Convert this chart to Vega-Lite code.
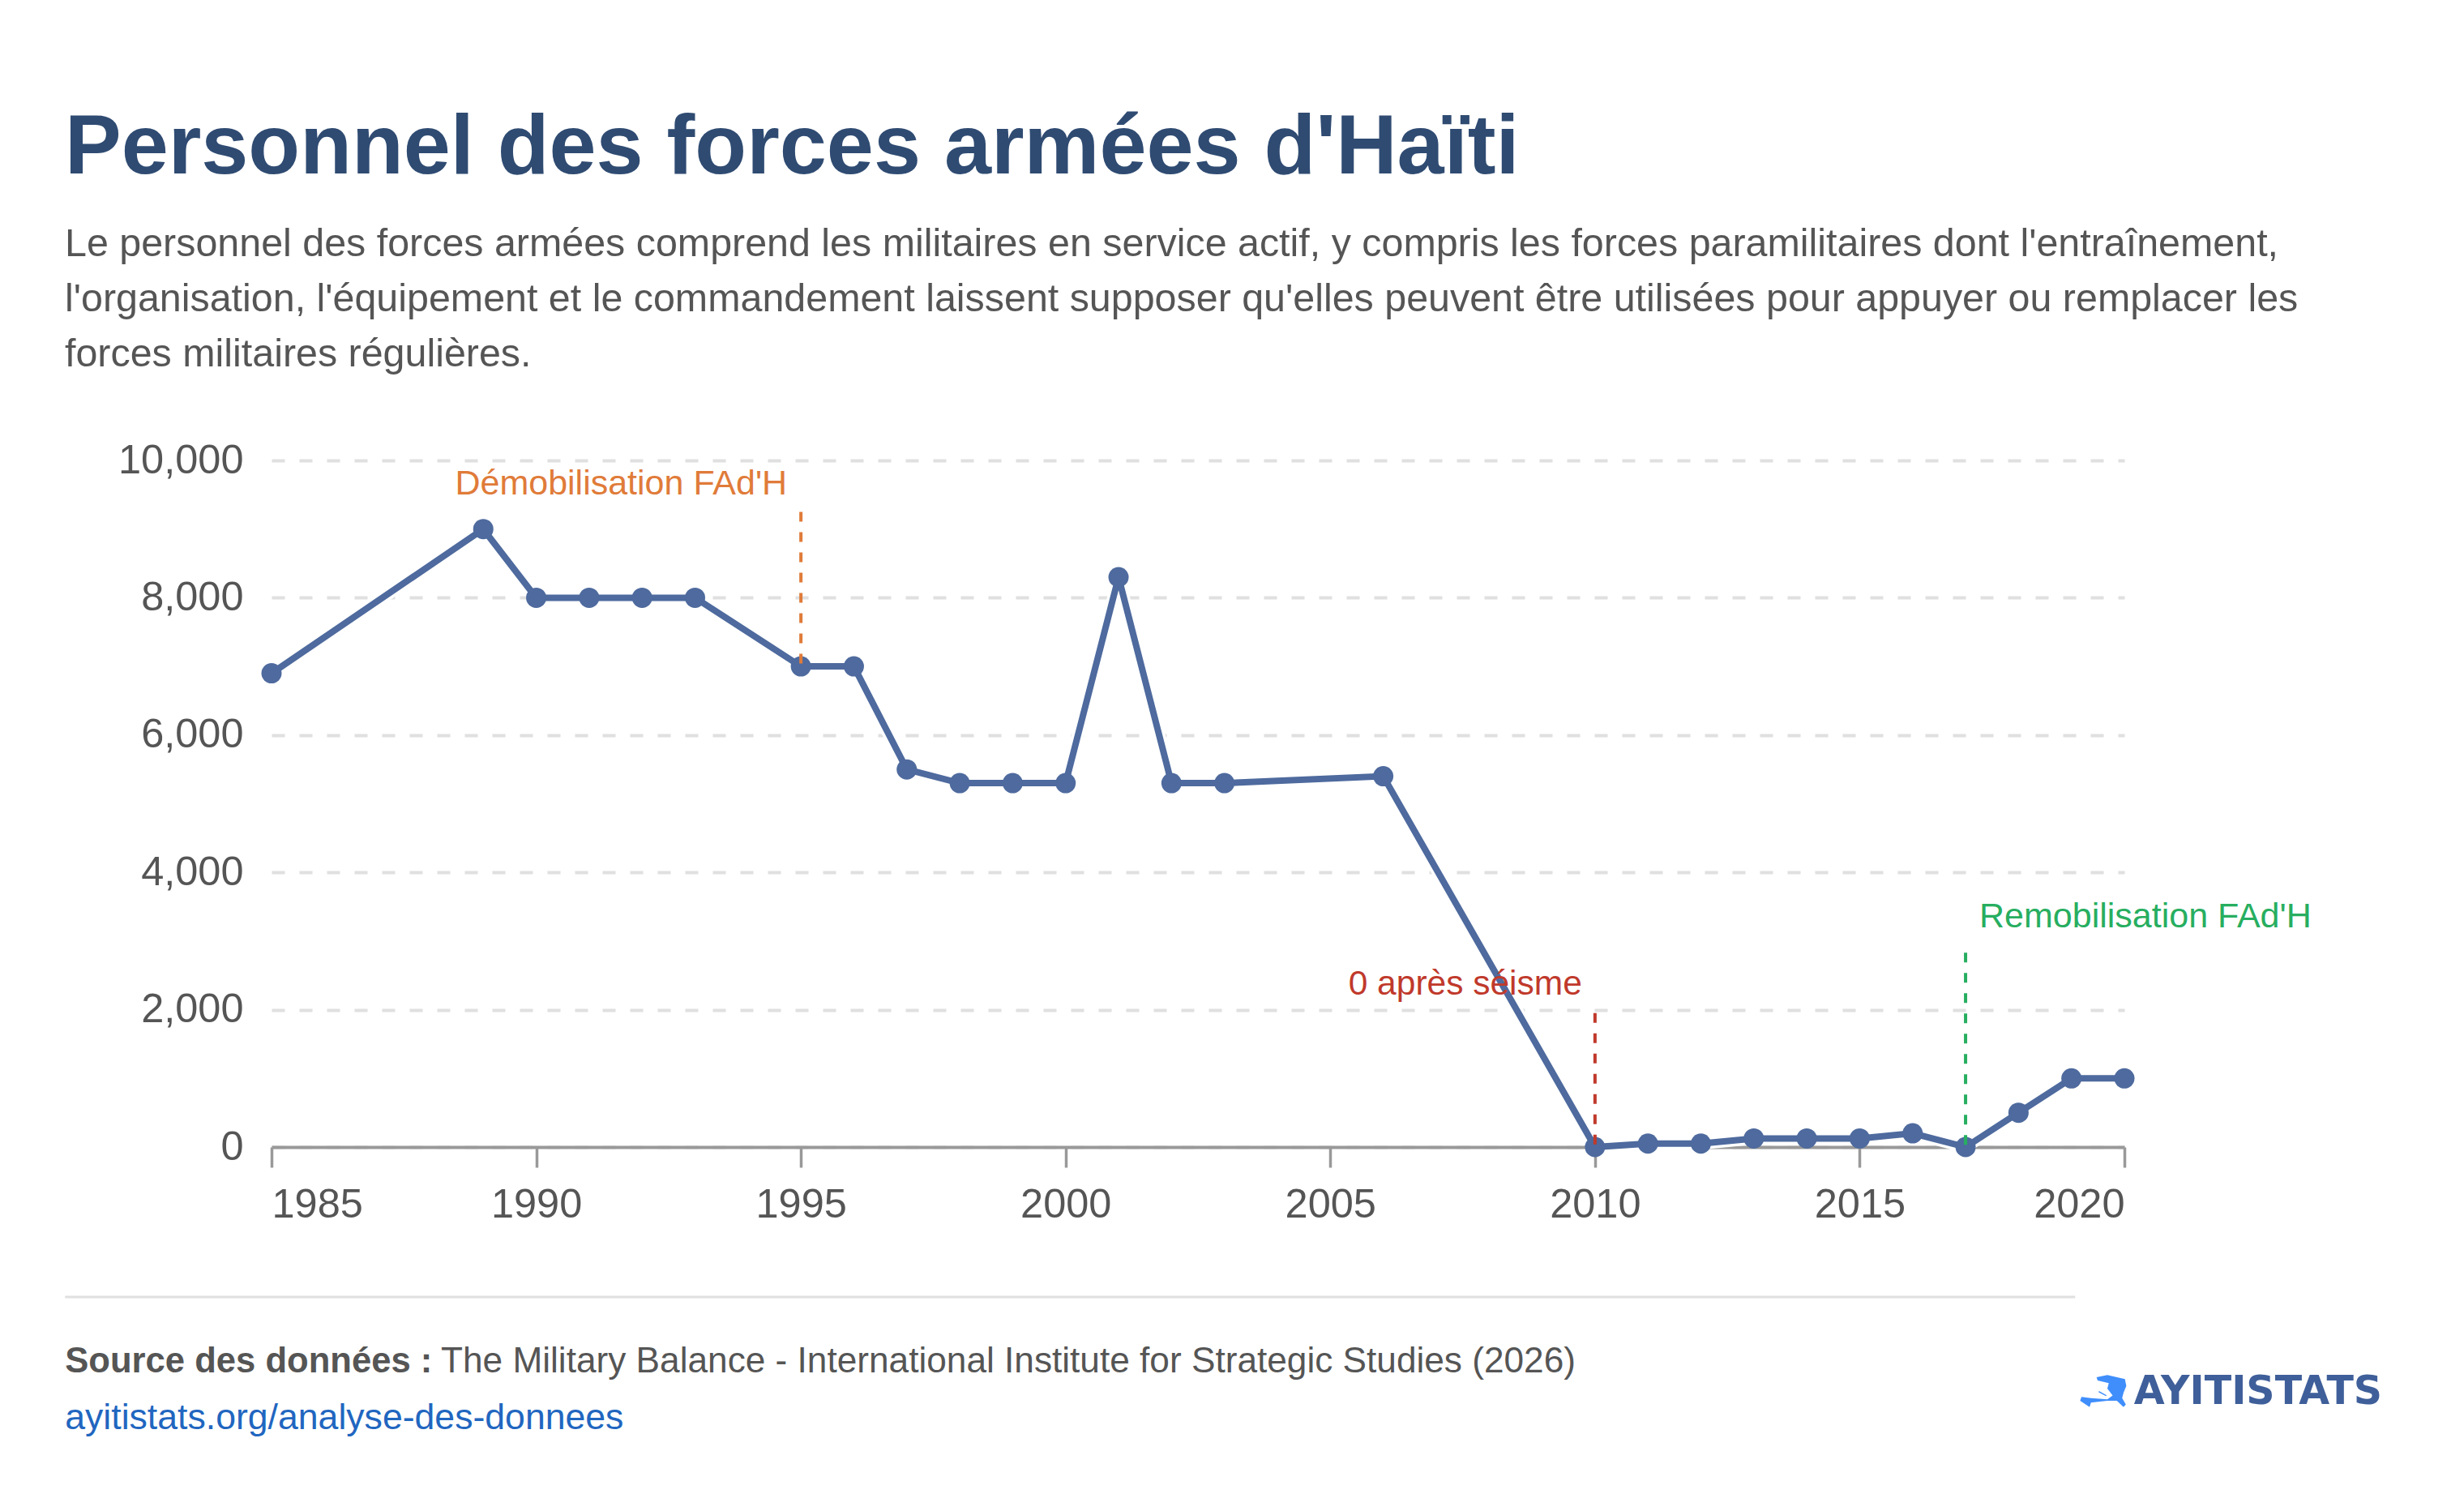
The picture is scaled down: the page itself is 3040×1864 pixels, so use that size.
{
  "$schema": "https://vega.github.io/schema/vega-lite/v6.json",
  "autosize": {"type": "none"},
  "padding": {"left": 335, "top": 568, "right": 419, "bottom": 449},
  "width": 2286,
  "height": 847,
  "background": "#ffffff",
  "title": {
    "text": "Personnel des forces armées d'Haïti",
    "subtitle": [
      "Le personnel des forces armées comprend les militaires en service actif, y compris les forces paramilitaires dont l'entraînement,",
      "l'organisation, l'équipement et le commandement laissent supposer qu'elles peuvent être utilisées pour appuyer ou remplacer les",
      "forces militaires régulières."
    ],
    "anchor": "start",
    "frame": "group",
    "dx": -255,
    "offset": 80,
    "font": "Liberation Sans",
    "fontSize": 104.4,
    "fontWeight": "bold",
    "color": "#2f4b72",
    "subtitleFont": "Liberation Sans",
    "subtitleFontSize": 48.4,
    "subtitleLineHeight": 67.8,
    "subtitleColor": "#555555",
    "subtitlePadding": 41.5
  },
  "datasets": {
    "personnel": [
      {"year": 1985, "troops": 6900},
      {"year": 1989, "troops": 9000},
      {"year": 1990, "troops": 8000},
      {"year": 1991, "troops": 8000},
      {"year": 1992, "troops": 8000},
      {"year": 1993, "troops": 8000},
      {"year": 1995, "troops": 7000},
      {"year": 1996, "troops": 7000},
      {"year": 1997, "troops": 5500},
      {"year": 1998, "troops": 5300},
      {"year": 1999, "troops": 5300},
      {"year": 2000, "troops": 5300},
      {"year": 2001, "troops": 8300},
      {"year": 2002, "troops": 5300},
      {"year": 2003, "troops": 5300},
      {"year": 2006, "troops": 5400},
      {"year": 2010, "troops": 0},
      {"year": 2011, "troops": 50},
      {"year": 2012, "troops": 50},
      {"year": 2013, "troops": 125},
      {"year": 2014, "troops": 125},
      {"year": 2015, "troops": 125},
      {"year": 2016, "troops": 200},
      {"year": 2017, "troops": 0},
      {"year": 2018, "troops": 500},
      {"year": 2019, "troops": 1000},
      {"year": 2020, "troops": 1000}
    ],
    "events": [
      {"year": 1995, "top": 9250, "base": 7000, "kind": "demob"},
      {"year": 2010, "top": 1950, "base": 0, "kind": "seisme"},
      {"year": 2017, "top": 2830, "base": 0, "kind": "remob"}
    ]
  },
  "layer": [
    {
      "data": {"name": "personnel"},
      "encoding": {
        "x": {
          "field": "year", "type": "quantitative",
          "scale": {"domain": [1985, 2020], "nice": false, "zero": false},
          "axis": {
            "title": null,
            "values": [1985, 1990, 1995, 2000, 2005, 2010, 2015, 2020],
            "format": "d",
            "grid": false,
            "labelFlush": true,
            "labelFont": "Liberation Sans",
            "labelFontSize": 50.5,
            "labelColor": "#555555",
            "labelPadding": 21,
            "domainColor": "#999999",
            "domainWidth": 4,
            "tickColor": "#999999",
            "tickWidth": 3.5,
            "tickSize": 25
          }
        },
        "y": {
          "field": "troops", "type": "quantitative",
          "scale": {"domain": [0, 10000], "nice": false},
          "axis": {
            "title": null,
            "values": [0, 2000, 4000, 6000, 8000, 10000],
            "format": ",d",
            "domain": false,
            "ticks": false,
            "labelFont": "Liberation Sans",
            "labelFontSize": 50.5,
            "labelColor": "#555555",
            "labelPadding": 35,
            "gridColor": "#e0e0e0",
            "gridWidth": 4,
            "gridDash": [16, 18]
          }
        }
      },
      "layer": [
        {"mark": {"type": "line", "stroke": "#ffffff", "strokeWidth": 15}},
        {"mark": {"type": "line", "stroke": "#4e6a9e", "strokeWidth": 8}},
        {"mark": {"type": "point", "filled": true, "size": 625, "color": "#4e6a9e", "opacity": 1}}
      ]
    },
    {
      "data": {"name": "events"},
      "mark": {"type": "rule", "strokeWidth": 4, "strokeDash": [12, 13]},
      "encoding": {
        "x": {"field": "year", "type": "quantitative"},
        "y": {"field": "top", "type": "quantitative"},
        "y2": {"field": "base"},
        "color": {
          "field": "kind", "type": "nominal",
          "scale": {"domain": ["demob", "seisme", "remob"], "range": ["#e07b39", "#c0392b", "#27ae60"]},
          "legend": null
        }
      }
    },
    {
      "data": {"values": [{"year": 1995, "top": 9250, "label": "Démobilisation FAd'H"}]},
      "mark": {"type": "text", "align": "right", "baseline": "alphabetic", "dx": -17, "dy": -22, "font": "Liberation Sans", "fontSize": 43, "color": "#e07b39"},
      "encoding": {"x": {"field": "year", "type": "quantitative"}, "y": {"field": "top", "type": "quantitative"}, "text": {"field": "label"}}
    },
    {
      "data": {"values": [{"year": 2010, "top": 1950, "label": "0 après séisme"}]},
      "mark": {"type": "text", "align": "right", "baseline": "alphabetic", "dx": -16, "dy": -23, "font": "Liberation Sans", "fontSize": 42.5, "color": "#c0392b"},
      "encoding": {"x": {"field": "year", "type": "quantitative"}, "y": {"field": "top", "type": "quantitative"}, "text": {"field": "label"}}
    },
    {
      "data": {"values": [{"year": 2017, "top": 2830, "label": "Remobilisation FAd'H"}]},
      "mark": {"type": "text", "align": "left", "baseline": "alphabetic", "dx": 17, "dy": -31, "font": "Liberation Sans", "fontSize": 43, "color": "#27ae60"},
      "encoding": {"x": {"field": "year", "type": "quantitative"}, "y": {"field": "top", "type": "quantitative"}, "text": {"field": "label"}}
    },
    {
      "data": {"values": [{"label": "separator"}]},
      "mark": {"type": "rule", "stroke": "#e0e0e0", "strokeWidth": 3, "clip": false},
      "encoding": {
        "x": {"datum": 1981.1},
        "x2": {"datum": 2019.07},
        "y": {"datum": -2184}
      }
    },
    {
      "data": {"values": [{"label": "Source des données :"}]},
      "mark": {"type": "text", "align": "left", "baseline": "alphabetic", "font": "Liberation Sans", "fontSize": 43.6, "fontWeight": "bold", "color": "#555555"},
      "encoding": {"x": {"datum": 1981.1}, "y": {"datum": -3282}, "text": {"field": "label"}}
    },
    {
      "data": {"values": [{"label": "The Military Balance - International Institute for Strategic Studies (2026)"}]},
      "mark": {"type": "text", "align": "left", "baseline": "alphabetic", "font": "Liberation Sans", "fontSize": 44.2, "color": "#555555"},
      "encoding": {"x": {"datum": 1988.2}, "y": {"datum": -3282}, "text": {"field": "label"}}
    },
    {
      "data": {"values": [{"label": "ayitistats.org/analyse-des-donnees"}]},
      "mark": {"type": "text", "align": "left", "baseline": "alphabetic", "font": "Liberation Sans", "fontSize": 44.6, "color": "#2166c0"},
      "encoding": {"x": {"datum": 1981.1}, "y": {"datum": -4109}, "text": {"field": "label"}}
    },
    {
      "data": {"values": [{"label": "AYITISTATS"}]},
      "mark": {"type": "text", "align": "left", "baseline": "alphabetic", "font": "DejaVu Sans", "fontSize": 49, "fontWeight": "bold", "color": "#3f5f9a"},
      "encoding": {"x": {"datum": 2020.18}, "y": {"datum": -3743}, "text": {"field": "label"}}
    },
    {
      "data": {"values": [{"label": "Haïti"}]},
      "mark": {
        "type": "point", "filled": true, "size": 3249, "color": "#3f8efc", "opacity": 1, "strokeWidth": 0,
        "shape": "M-0.29 -0.6 L0.18 -0.69 L0.94 -0.52 L1 -0.22 L0.88 0.07 L0.82 0.31 L0.98 0.58 L0.88 0.69 L0.59 0.42 L0.18 0.42 L-0.53 0.5 L-0.59 0.69 L-1 0.42 L-0.94 0.25 L-0.53 0.31 L0.18 0.36 L0.41 0.19 L0.18 -0.11 L0.24 -0.34 L-0.24 -0.46 Z M-0.18 0 L0.15 0.18 L0.12 0.22 L-0.2 0.05 Z"
      },
      "encoding": {"x": {"datum": 2019.6}, "y": {"datum": -3554}}
    }
  ],
  "config": {"view": {"stroke": null}}
}
